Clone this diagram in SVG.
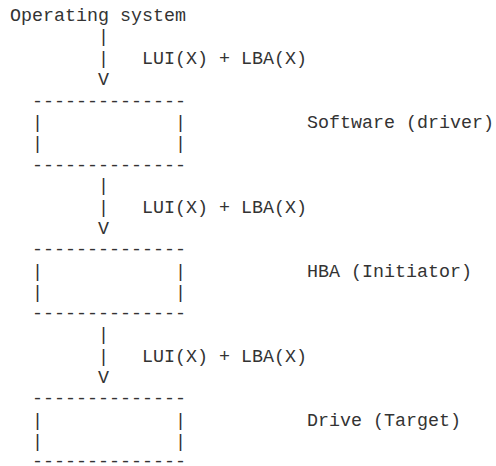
<svg xmlns="http://www.w3.org/2000/svg" width="496" height="466" viewBox="0 0 496 466">
<style>
text{font-family:"Liberation Mono","DejaVu Sans Mono",monospace;font-size:18.33px;fill:#333;white-space:pre}
</style>
<rect width="496" height="466" fill="#fff"/>
<g id="os"><text x="10" y="21">Operating system</text></g>
<g id="connectors">
<text x="98" y="42.4">|</text>
<text x="98" y="63.7">|</text><text x="142" y="63.7">LUI(X) + LBA(X)</text>
<text x="98" y="85.1">V</text>
<text x="98" y="191.3">|</text>
<text x="98" y="212.7">|</text><text x="142" y="212.7">LUI(X) + LBA(X)</text>
<text x="98" y="234">V</text>
<text x="98" y="340.2">|</text>
<text x="98" y="361.6">|</text><text x="142" y="361.6">LUI(X) + LBA(X)</text>
<text x="98" y="383">V</text>
</g>
<g id="software">
<text x="32" y="106.5">--------------</text>
<text x="32" y="127.8">|</text><text x="175" y="127.8">|</text><text x="307" y="127.8">Software (driver)</text>
<text x="32" y="149.2">|</text><text x="175" y="149.2">|</text>
<text x="32" y="170.5">--------------</text>
</g>
<g id="hba">
<text x="32" y="255.4">--------------</text>
<text x="32" y="276.7">|</text><text x="175" y="276.7">|</text><text x="307" y="276.7">HBA (Initiator)</text>
<text x="32" y="298.1">|</text><text x="175" y="298.1">|</text>
<text x="32" y="319.4">--------------</text>
</g>
<g id="drive">
<text x="32" y="404.3">--------------</text>
<text x="32" y="425.6">|</text><text x="175" y="425.6">|</text><text x="307" y="425.6">Drive (Target)</text>
<text x="32" y="447">|</text><text x="175" y="447">|</text>
<text x="32" y="467">--------------</text>
</g>
</svg>
